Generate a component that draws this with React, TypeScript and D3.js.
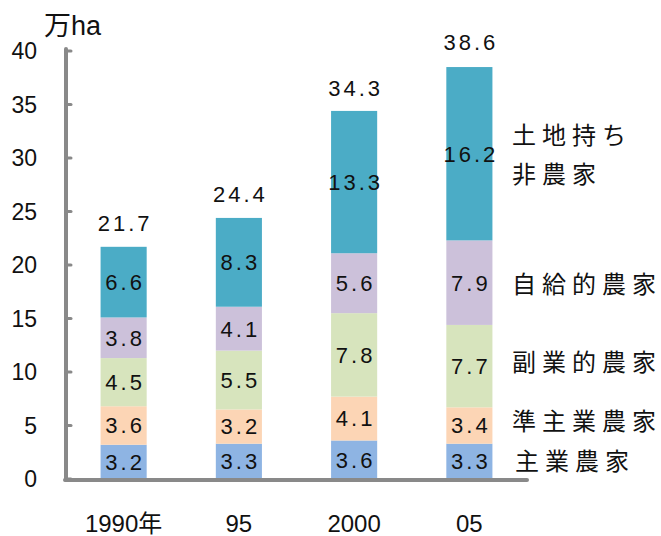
import React from "react";
import * as d3 from "d3";

const categories = ["1990年", "95", "2000", "05"];
const seriesNames = ["主業農家", "準主業農家", "副業的農家", "自給的農家", "土地持ち非農家"];
const shuGyo = [3.2, 3.3, 3.6, 3.3];
const junShuGyo = [3.6, 3.2, 4.1, 3.4];
const fukuGyo = [4.5, 5.5, 7.8, 7.7];
const jikyu = [3.8, 4.1, 5.6, 7.9];
const tochiMochi = [6.6, 8.3, 13.3, 16.2];
const totals = [21.7, 24.4, 34.3, 38.6];
const yTicks = [0, 5, 10, 15, 20, 25, 30, 35, 40];
const colors = ["#8EB4E3", "#FCD5B5", "#D7E4BD", "#CCC1DA", "#4BACC6"];

const FONT = "'Liberation Sans', Arial, 'Noto Sans CJK JP', sans-serif";
const CJK = "'Noto Sans CJK JP', 'Liberation Sans', sans-serif";

export default function App() {
  const W = 661, H = 536;
  const x0 = 66, x1 = 527;
  const y = d3.scaleLinear().domain([0, 40]).range([479, 51]);
  const x = d3
    .scaleBand<string>()
    .domain(categories)
    .range([x0, x1])
    .paddingInner(0.6)
    .paddingOuter(0.3);
  const seriesValues = [shuGyo, junShuGyo, fukuGyo, jikyu, tochiMochi];
  const rows = categories.map((c, i) => {
    const r: any = { cat: c };
    seriesNames.forEach((s, k) => (r[s] = seriesValues[k][i]));
    return r;
  });
  const stacked = d3.stack<any>().keys(seriesNames)(rows);
  const last = categories.length - 1;
  const legendLines: string[][] = [["主業農家"], ["準主業農家"], ["副業的農家"], ["自給的農家"], ["土地持ち", "非農家"]];
  const legendOffset = [0, -4, -4, 2, 1];

  return (
    <svg width={W} height={H} style={{ display: "block", position: "absolute", left: 0, top: 0 }}>
      <rect width={W} height={H} fill="#fff" />
      {stacked.map((layer, k) =>
        layer.map((d, i) => {
          const bx = x(categories[i])!;
          const bw = x.bandwidth();
          const top = y(d[1]);
          const bot = y(d[0]);
          return (
            <g key={`${k}-${i}`}>
              <rect x={bx} y={top} width={bw} height={bot - top} fill={colors[k]} />
              <text
                x={bx + bw / 2 + 1.5}
                y={(top + bot) / 2}
                dy="0.36em"
                textAnchor="middle"
                fontFamily={FONT}
                fontSize={22}
                letterSpacing={3}
                fill="#111"
              >
                {seriesValues[k][i].toFixed(1)}
              </text>
            </g>
          );
        })
      )}
      {totals.map((t, i) => (
        <text
          key={"t" + i}
          x={x(categories[i])! + x.bandwidth() / 2 + 1.5}
          y={y(t) - 24}
          dy="0.36em"
          textAnchor="middle"
          fontFamily={FONT}
          fontSize={22}
          letterSpacing={3}
          fill="#111"
        >
          {t.toFixed(1)}
        </text>
      ))}
      <line x1={66} x2={66} y1={y(40) - 2} y2={y(0) + 1} stroke="#898989" strokeWidth={4} strokeLinecap="round" />
      {yTicks.map((t) => (
        <g key={"yt" + t}>
          <line x1={66} x2={71} y1={y(t)} y2={y(t)} stroke="#898989" strokeWidth={3} strokeLinecap="round" />
          <text x={37} y={y(t)} dy="0.36em" textAnchor="end" fontFamily={FONT} fontSize={23} fill="#111">
            {t}
          </text>
        </g>
      ))}
      <line x1={65} x2={x1} y1={y(0) + 1} y2={y(0) + 1} stroke="#898989" strokeWidth={4} strokeLinecap="round" />
      {categories.map((c, i) => (
        <text
          key={"c" + i}
          x={x(c)! + x.bandwidth() / 2}
          y={523}
          dy="0.36em"
          textAnchor="middle"
          fontFamily={FONT}
          fontSize={24}
          fill="#111"
        >
          {c}
        </text>
      ))}
      <text x={44} y={25} dy="0.36em" fontFamily={FONT} fontSize={27} fill="#111">
        万ha
      </text>
      {legendLines.map((lines, k) => {
        const d = stacked[k][last];
        const cy = (y(d[0]) + y(d[1])) / 2 + legendOffset[k];
        const lh = 39;
        return lines.map((ln, j) => (
          <text
            key={`l${k}-${j}`}
            x={k === 0 ? 515 : 512}
            y={cy + (j - (lines.length - 1) / 2) * lh}
            dy="0.36em"
            fontFamily={CJK}
            fontSize={24}
            letterSpacing={6}
            fill="#111"
          >
            {ln}
          </text>
        ));
      })}
    </svg>
  );
}
